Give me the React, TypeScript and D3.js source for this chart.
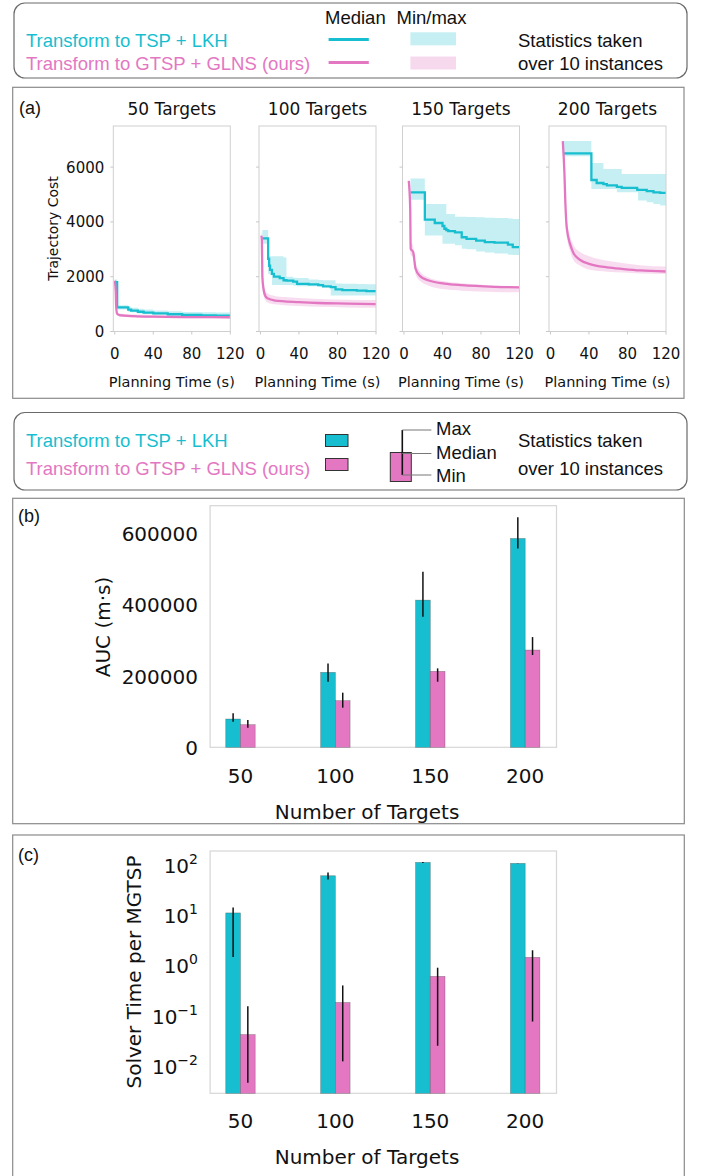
import React from 'react';
import * as d3 from 'd3';

const TEAL = '#17becf';
const PINK = '#e377c2';

// ---------- Panel (a) data: [time (s), min, median, max] ----------
const panelTitles = ['50 Targets', '100 Targets', '150 Targets', '200 Targets'];
const costTicks = [0, 2000, 4000, 6000];
const timeTicks = [0, 40, 80, 120];

const tsp50 = [
  [0, 1650, 1800, 1900], [2.5, 800, 880, 960], [14, 720, 800, 900], [17, 700, 760, 870],
  [24, 660, 720, 830], [30, 630, 690, 800], [40, 610, 660, 770], [55, 580, 630, 740],
  [70, 560, 605, 710], [90, 520, 585, 700], [105, 500, 575, 690], [120, 490, 565, 690],
];
const glns50 = [
  [0, 1750, 1850, 1900], [1, 1200, 1500, 1800], [1.5, 750, 900, 1100], [2.5, 580, 650, 720],
  [5, 550, 600, 660], [10, 530, 580, 640], [20, 510, 560, 620], [40, 490, 540, 600],
  [80, 480, 525, 580], [120, 475, 520, 575],
];
const tsp100 = [
  [2, 3200, 3400, 3700], [8, 2100, 2650, 2750], [9, 2100, 2400, 2750], [10, 2050, 2250, 2750],
  [12, 1700, 2100, 2750], [14, 1700, 2000, 2750], [20, 1700, 1950, 2750], [24, 1700, 1870, 2700],
  [27, 1700, 1860, 2000], [34, 1680, 1820, 1960], [38, 1650, 1740, 1950], [50, 1650, 1720, 1900],
  [60, 1640, 1690, 1880], [65, 1620, 1650, 1870], [73, 1310, 1620, 1870], [78, 1310, 1540, 1750],
  [85, 1310, 1510, 1740], [100, 1310, 1490, 1730], [110, 1310, 1470, 1720], [120, 1310, 1450, 1720],
];
const glns100 = [
  [1, 3300, 3500, 3600], [1.5, 2000, 3300, 3600], [2, 1700, 2000, 2600], [3, 1400, 1600, 1900],
  [5, 1150, 1300, 1500], [8, 1050, 1200, 1380], [15, 990, 1130, 1300], [25, 960, 1100, 1260],
  [40, 930, 1070, 1220], [60, 900, 1040, 1190], [90, 880, 1020, 1160], [120, 870, 1000, 1150],
];
const tsp150 = [
  [6.9, 4810, 5080, 5580], [21.7, 3500, 4085, 4650], [32, 3500, 3960, 4650], [40, 3200, 3850, 4650],
  [42, 3200, 3750, 4650], [44, 3200, 3700, 4290], [46, 3200, 3660, 4290], [53, 3150, 3620, 4190],
  [60, 3020, 3440, 4190], [65, 3000, 3380, 4180], [75, 2920, 3320, 4170], [84, 2880, 3260, 4150],
  [94, 2850, 3240, 4140], [108, 2800, 3170, 4120], [113, 2790, 3080, 4110], [120, 2780, 3060, 4110],
];
const glns150 = [
  [5, 5400, 5500, 5600], [6.5, 4000, 4500, 5000], [7, 2800, 3020, 3300], [9.6, 2700, 2900, 3100],
  [12, 2100, 2300, 2500], [16.5, 1850, 2030, 2200], [25, 1680, 1870, 1980], [42, 1540, 1750, 1830],
  [60, 1490, 1690, 1760], [94, 1440, 1630, 1680], [120, 1430, 1610, 1650],
];
const tsp200 = [
  [13.8, 6400, 6500, 6950], [42.5, 5200, 5530, 6150], [48, 5200, 5420, 6150], [55, 5200, 5380, 5930],
  [58.6, 5200, 5330, 5930], [69, 5080, 5280, 5930], [74, 5080, 5240, 5750], [90, 5080, 5180, 5750],
  [91, 4780, 5170, 5750], [100, 4720, 5120, 5750], [107, 4650, 5080, 5750], [114, 4600, 5060, 5750],
  [120, 4580, 5050, 5750],
];
const glns200 = [
  [12.8, 6800, 6950, 7000], [14.5, 5500, 5800, 6200], [15.5, 4400, 4700, 5100], [17, 3500, 3760, 4100],
  [20.7, 2900, 3160, 3450], [24, 2600, 2860, 3150], [31, 2400, 2610, 2900], [41, 2250, 2460, 2740],
  [59, 2180, 2340, 2580], [76, 2150, 2280, 2490], [93, 2120, 2230, 2420], [120, 2100, 2190, 2370],
];
const tspSeries = [tsp50, tsp100, tsp150, tsp200];
const glnsSeries = [glns50, glns100, glns150, glns200];

// ---------- Panel (b) data ----------
const targetLabels = ['50', '100', '150', '200'];
const aucTicks = [0, 200000, 400000, 600000];
const aucTspMed = [79400, 210300, 413000, 586000];
const aucTspMin = [72000, 184100, 366400, 558000];
const aucTspMax = [95300, 235500, 492500, 645800];
const aucGlnsMed = [63500, 130800, 213100, 272900];
const aucGlnsMin = [55100, 111200, 184100, 258900];
const aucGlnsMax = [76600, 153300, 221500, 309300];

// ---------- Panel (c) data ----------
const timeExpTicks = [-2, -1, 0, 1, 2];
const timeTspMed = [11.1, 61.2, 113, 108];
const timeTspMin = [1.47, 51.7, 110, 107];
const timeTspMax = [14.2, 71.3, 115, 109];
const timeGlnsMed = [0.0417, 0.182, 0.603, 1.445];
const timeGlnsMin = [0.0046, 0.0122, 0.025, 0.0759];
const timeGlnsMax = [0.154, 0.398, 0.898, 2.0];

const DJ = 'DejaVu Sans, sans-serif';
const LS = 'Liberation Sans, Arial, sans-serif';

const subLefts = [113.3, 259, 402.5, 549];
const subW = 117;

function CostSubplot({ i }: { i: number }) {
  const left = subLefts[i];
  const top = 126, bottom = 331.5;
  const x = d3.scaleLinear().domain([-1.5, 120]).range([left, left + subW]);
  const y = d3.scaleLinear().domain([0, 7500]).range([bottom, top]);
  const stepArea = d3.area<number[]>().x(d => x(d[0])).y0(d => y(d[1])).y1(d => y(d[3])).curve(d3.curveStepAfter);
  const stepLine = d3.line<number[]>().x(d => x(d[0])).y(d => y(d[2])).curve(d3.curveStepAfter);
  const smArea = d3.area<number[]>().x(d => x(d[0])).y0(d => y(d[1])).y1(d => y(d[3])).curve(d3.curveMonotoneX);
  const smLine = d3.line<number[]>().x(d => x(d[0])).y(d => y(d[2])).curve(d3.curveMonotoneX);
  const cx = left + subW / 2;
  const clipId = `clipA${i}`;
  return (
    <g>
      <clipPath id={clipId}><rect x={left} y={top} width={subW} height={bottom - top} /></clipPath>
      <text x={cx} y={114.5} textAnchor="middle" fontFamily={DJ} fontSize={17} fill="#111">{panelTitles[i]}</text>
      <g clipPath={`url(#${clipId})`}>
        <path d={stepArea(tspSeries[i]) || ''} fill={TEAL} fillOpacity={0.25} />
        <path d={smArea(glnsSeries[i]) || ''} fill={PINK} fillOpacity={0.25} />
        <path d={stepLine(tspSeries[i]) || ''} fill="none" stroke={TEAL} strokeWidth={2.3} />
        <path d={smLine(glnsSeries[i]) || ''} fill="none" stroke={PINK} strokeWidth={2.3} />
      </g>
      <rect x={left} y={top} width={subW} height={bottom - top} fill="none" stroke="#d0d0d0" strokeWidth={1} />
      {costTicks.map(t => (
        <line key={'yt' + t} x1={left - 3} x2={left} y1={y(t)} y2={y(t)} stroke="#c8c8c8" />
      ))}
      {timeTicks.map(t => (
        <g key={'xt' + t}>
          <line x1={x(t)} x2={x(t)} y1={bottom} y2={bottom + 3} stroke="#c8c8c8" />
          <text x={x(t)} y={358.5} textAnchor="middle" fontFamily={DJ} fontSize={15} fill="#111">{t}</text>
        </g>
      ))}
      {i === 0 && costTicks.map(t => (
        <text key={'yl' + t} x={left - 9} y={y(t) + 5.5} textAnchor="end" fontFamily={DJ} fontSize={15} fill="#111">{t}</text>
      ))}
      <text x={cx} y={386.5} textAnchor="middle" fontFamily={DJ} fontSize={14.5} fill="#111">Planning Time (s)</text>
    </g>
  );
}

const barX0 = 210.1, barX1 = 556.5;
const barW = 0.155;

function AucPanel() {
  const top = 505.7, bottom = 747.3;
  const x = d3.scaleLinear().domain([-0.32, 3.33]).range([barX0, barX1]);
  const y = d3.scaleLinear().domain([0, 678000]).range([bottom, top]);
  return (
    <g>
      <rect x={12.7} y={498.3} width={671.6} height={325.4} fill="none" stroke="#8a8a8a" strokeWidth={1.2} />
      <text x={18} y={522} fontFamily={LS} fontSize={18} fill="#111">(b)</text>
      <rect x={barX0} y={top} width={barX1 - barX0} height={bottom - top} fill="none" stroke="#d6d6d6" strokeWidth={1.2} />
      {targetLabels.map((lab, i) => (
        <g key={lab}>
          <rect x={x(i - barW)} y={y(aucTspMed[i])} width={x(i) - x(i - barW)} height={bottom - y(aucTspMed[i])} fill={TEAL} stroke="#444" strokeOpacity={0.5} strokeWidth={0.6} />
          <rect x={x(i)} y={y(aucGlnsMed[i])} width={x(i + barW) - x(i)} height={bottom - y(aucGlnsMed[i])} fill={PINK} stroke="#444" strokeOpacity={0.5} strokeWidth={0.6} />
          <line x1={x(i - barW / 2)} x2={x(i - barW / 2)} y1={y(aucTspMin[i])} y2={y(aucTspMax[i])} stroke="#111" strokeWidth={1.5} />
          <line x1={x(i + barW / 2)} x2={x(i + barW / 2)} y1={y(aucGlnsMin[i])} y2={y(aucGlnsMax[i])} stroke="#111" strokeWidth={1.5} />
          <text x={x(i)} y={782.5} textAnchor="middle" fontFamily={DJ} fontSize={20} fill="#111">{lab}</text>
        </g>
      ))}
      {aucTicks.map(t => (
        <text key={t} x={198} y={y(t) + 7.5} textAnchor="end" fontFamily={DJ} fontSize={20} fill="#111">{t}</text>
      ))}
      <text transform={`translate(110,627) rotate(-90)`} textAnchor="middle" fontFamily={DJ} fontSize={20} fill="#111">AUC (m·s)</text>
      <text x={367} y={819} textAnchor="middle" fontFamily={DJ} fontSize={20} fill="#111">Number of Targets</text>
    </g>
  );
}

function TimePanel() {
  const top = 851, bottom = 1093.3;
  const x = d3.scaleLinear().domain([-0.32, 3.33]).range([barX0, barX1]);
  const y = d3.scaleLog().domain([Math.pow(10, -2.55), Math.pow(10, 2.28)]).range([bottom, top]);
  return (
    <g>
      <rect x={12.7} y={835} width={671.6} height={360} fill="none" stroke="#8a8a8a" strokeWidth={1.2} />
      <text x={18} y={861} fontFamily={LS} fontSize={18} fill="#111">(c)</text>
      <rect x={barX0} y={top} width={barX1 - barX0} height={bottom - top} fill="none" stroke="#d6d6d6" strokeWidth={1.2} />
      {targetLabels.map((lab, i) => (
        <g key={lab}>
          <rect x={x(i - barW)} y={y(timeTspMed[i])} width={x(i) - x(i - barW)} height={bottom - y(timeTspMed[i])} fill={TEAL} stroke="#444" strokeOpacity={0.5} strokeWidth={0.6} />
          <rect x={x(i)} y={y(timeGlnsMed[i])} width={x(i + barW) - x(i)} height={bottom - y(timeGlnsMed[i])} fill={PINK} stroke="#444" strokeOpacity={0.5} strokeWidth={0.6} />
          <line x1={x(i - barW / 2)} x2={x(i - barW / 2)} y1={y(timeTspMin[i])} y2={y(timeTspMax[i])} stroke="#111" strokeWidth={1.5} />
          <line x1={x(i + barW / 2)} x2={x(i + barW / 2)} y1={y(timeGlnsMin[i])} y2={y(timeGlnsMax[i])} stroke="#111" strokeWidth={1.5} />
          <text x={x(i)} y={1127.5} textAnchor="middle" fontFamily={DJ} fontSize={20} fill="#111">{lab}</text>
        </g>
      ))}
      {timeExpTicks.map(e => (
        <text key={e} x={198} y={y(Math.pow(10, e)) + 8} textAnchor="end" fontFamily={DJ} fontSize={20} fill="#111">
          10<tspan dy={-9} fontSize={14}>{e < 0 ? '\u2212' + Math.abs(e) : String(e)}</tspan>
        </text>
      ))}
      <text transform={`translate(140.5,972) rotate(-90)`} textAnchor="middle" fontFamily={DJ} fontSize={20} fill="#111">Solver Time per MGTSP</text>
      <text x={367} y={1164} textAnchor="middle" fontFamily={DJ} fontSize={20} fill="#111">Number of Targets</text>
    </g>
  );
}

function LegendTop() {
  return (
    <g fontFamily={LS} fontSize={18.5}>
      <rect x={14} y={3} width={673} height={75} rx={11} fill="#fff" stroke="#6a6a6a" strokeWidth={1.2} />
      <text x={26} y={46.5} fill={TEAL}>Transform to TSP + LKH</text>
      <text x={26} y={70} fill={PINK}>Transform to GTSP + GLNS (ours)</text>
      <text x={325} y={23.5} fill="#111">Median</text>
      <text x={396.5} y={23.5} fill="#111">Min/max</text>
      <line x1={328.6} x2={368.8} y1={39.5} y2={39.5} stroke={TEAL} strokeWidth={3} />
      <line x1={328.6} x2={368.8} y1={62.5} y2={62.5} stroke={PINK} strokeWidth={3} />
      <rect x={410.4} y={32.3} width={45.6} height={13} fill={TEAL} fillOpacity={0.25} />
      <rect x={410.4} y={56.5} width={45.6} height={13} fill={PINK} fillOpacity={0.28} />
      <text x={518} y={46.5} fill="#111">Statistics taken</text>
      <text x={518} y={69.5} fill="#111">over 10 instances</text>
    </g>
  );
}

function LegendBars() {
  return (
    <g fontFamily={LS} fontSize={18.5}>
      <rect x={14} y={412.5} width={673} height={77.5} rx={11} fill="#fff" stroke="#6a6a6a" strokeWidth={1.2} />
      <text x={26} y={446.5} fill={TEAL}>Transform to TSP + LKH</text>
      <text x={26} y={474.5} fill={PINK}>Transform to GTSP + GLNS (ours)</text>
      <rect x={325.5} y={434.5} width={22.5} height={12} fill={TEAL} stroke="#333" strokeWidth={1} />
      <rect x={325.5} y={458.5} width={22.5} height={12} fill={PINK} stroke="#333" strokeWidth={1} />
      <rect x={390.3} y={452.5} width={21} height={29} fill={PINK} stroke="#333" strokeWidth={1} />
      <line x1={402.3} x2={402.3} y1={430} y2={475} stroke="#111" strokeWidth={1.6} />
      <line x1={402.3} x2={431.4} y1={430} y2={430} stroke="#777" strokeWidth={1} />
      <line x1={402.3} x2={431.4} y1={453.5} y2={453.5} stroke="#777" strokeWidth={1} />
      <line x1={402.3} x2={431.4} y1={475} y2={475} stroke="#777" strokeWidth={1} />
      <text x={436} y={435} fill="#111">Max</text>
      <text x={436} y={459} fill="#111">Median</text>
      <text x={436} y={481.5} fill="#111">Min</text>
      <text x={518} y={446.5} fill="#111">Statistics taken</text>
      <text x={518} y={474.5} fill="#111">over 10 instances</text>
    </g>
  );
}

export default function App() {
  return (
    <svg width={702} height={1176} viewBox="0 0 702 1176" style={{ position: 'absolute', left: 0, top: 0, background: '#fff' }}>
      <rect x={0} y={0} width={702} height={1176} fill="#fff" />
      <LegendTop />
      <rect x={12.7} y={87.3} width={671.3} height={311} fill="none" stroke="#8a8a8a" strokeWidth={1.2} />
      <text x={19} y={114} fontFamily={LS} fontSize={18} fill="#111">(a)</text>
      <text transform="translate(57.5,228.5) rotate(-90)" textAnchor="middle" fontFamily={DJ} fontSize={14} fill="#111">Trajectory Cost</text>
      {[0, 1, 2, 3].map(i => <CostSubplot key={i} i={i} />)}
      <LegendBars />
      <AucPanel />
      <TimePanel />
    </svg>
  );
}
